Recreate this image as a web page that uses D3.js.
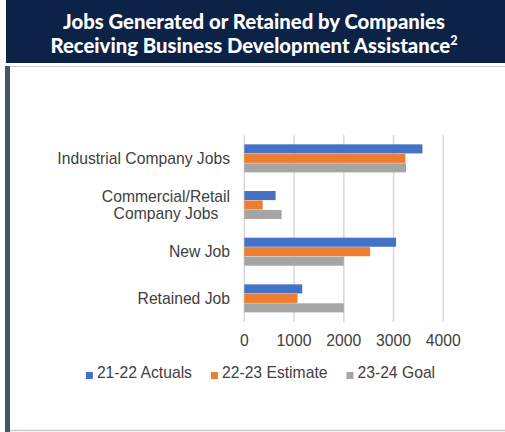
<!DOCTYPE html>
<html>
<head>
<meta charset="utf-8">
<title>Jobs Generated or Retained</title>
<script src="https://cdn.jsdelivr.net/npm/d3@7"></script>
<style>
  body { margin: 0; background: #fff; }
  svg { display: block; }
  .lbl { font-family: "Liberation Sans", Arial, sans-serif; font-size: 15.7px; fill: #404040; }
</style>
</head>
<body>
<svg width="505" height="432"></svg>
<script>
// data
const categories = ["Industrial Company Jobs", "Commercial/Retail\nCompany Jobs", "New Job", "Retained Job"];
const seriesNames = ["21-22 Actuals", "22-23 Estimate", "23-24 Goal"];
const actuals  = [3580, 630, 3050, 1165];
const estimate = [3240, 370, 2530, 1070];
const goal     = [3250, 750, 2000, 2000];
const ticks = [0, 1000, 2000, 3000, 4000];
const colors = ["#4472c4", "#ed7d31", "#a5a5a5"];

const svg = d3.select("svg");
const W = 505, H = 432;

// title banner
svg.append("rect").attr("x", 6).attr("y", 0).attr("width", W - 6).attr("height", 63).attr("fill", "#0c2246");
const title = svg.append("text")
    .attr("text-anchor", "middle")
    .attr("font-family", "Lato, 'Open Sans', sans-serif")
    .attr("font-weight", "900")
    .attr("font-size", 20.3)
    .attr("fill", "#fff");
title.append("tspan").attr("x", 254).attr("y", 29).text("Jobs Generated or Retained by Companies");
title.append("tspan").attr("x", 254).attr("y", 53).text("Receiving Business Development Assistance");
title.append("tspan").attr("dy", -8).attr("font-size", 12.5).text("2");

// frame
svg.append("line").attr("x1", 6).attr("x2", W).attr("y1", 66.5).attr("y2", 66.5).attr("stroke", "#c8ccd2").attr("stroke-width", 1);
svg.append("rect").attr("x", 5).attr("y", 66).attr("width", 5).attr("height", H - 66).attr("fill", "#44546a");
svg.append("line").attr("x1", 10).attr("x2", W).attr("y1", 430.5).attr("y2", 430.5).attr("stroke", "#c8ccd2").attr("stroke-width", 1.5);

// scales
const x = d3.scaleLinear().domain([0, 4000]).range([244.3, 443.3]);
const y = d3.scaleBand().domain(categories).range([135, 321.7]).paddingInner(0.4).paddingOuter(0.2);
const ys = d3.scaleBand().domain(seriesNames).range([0, y.bandwidth()]).paddingInner(0.04);

// gridlines
svg.append("g").selectAll("line").data(ticks).join("line")
    .attr("x1", d => x(d)).attr("x2", d => x(d))
    .attr("y1", 135).attr("y2", 322)
    .attr("stroke", "#d9d9d9").attr("stroke-width", 1.5);

// bars
const values = [actuals, estimate, goal];
const g = svg.append("g");
seriesNames.forEach((s, si) => {
  g.selectAll(null).data(categories).join("rect")
    .attr("x", x(0))
    .attr("y", c => y(c) + ys(s))
    .attr("width", (c, i) => x(values[si][i]) - x(0))
    .attr("height", ys.bandwidth())
    .attr("fill", colors[si]);
});

// x tick labels
svg.append("g").selectAll("text").data(ticks).join("text")
    .attr("class", "lbl")
    .attr("x", d => x(d)).attr("y", 346)
    .attr("text-anchor", "middle")
    .text(d => d);

// category labels (wrapped lines centred as a block, block right aligned)
categories.forEach(c => {
  const lines = c.split("\n");
  const t = svg.append("text").attr("class", "lbl").attr("text-anchor", "middle");
  const cy = y(c) + y.bandwidth() / 2;
  const lh = 17.5;
  lines.forEach((ln, i) => {
    t.append("tspan").attr("y", cy + 5.5 + (i - (lines.length - 1) / 2) * lh).text(ln);
  });
  let maxW = 0;
  t.selectAll("tspan").each(function() { maxW = Math.max(maxW, this.getComputedTextLength()); });
  t.selectAll("tspan").attr("x", 230 - maxW / 2);
});

// legend
const leg = svg.append("g");
let lx = 0;
seriesNames.forEach((s, i) => {
  const it = leg.append("g").attr("transform", `translate(${lx},0)`);
  it.append("rect").attr("x", 0).attr("y", -6).attr("width", 7).attr("height", 7).attr("fill", colors[i]);
  const tx = it.append("text").attr("class", "lbl").attr("x", 11).attr("y", 0).text(s);
  lx += 11 + tx.node().getComputedTextLength() + 19;
});
const legW = lx - 19;
leg.attr("transform", `translate(${260.5 - legW / 2},378)`);
</script>
</body>
</html>
